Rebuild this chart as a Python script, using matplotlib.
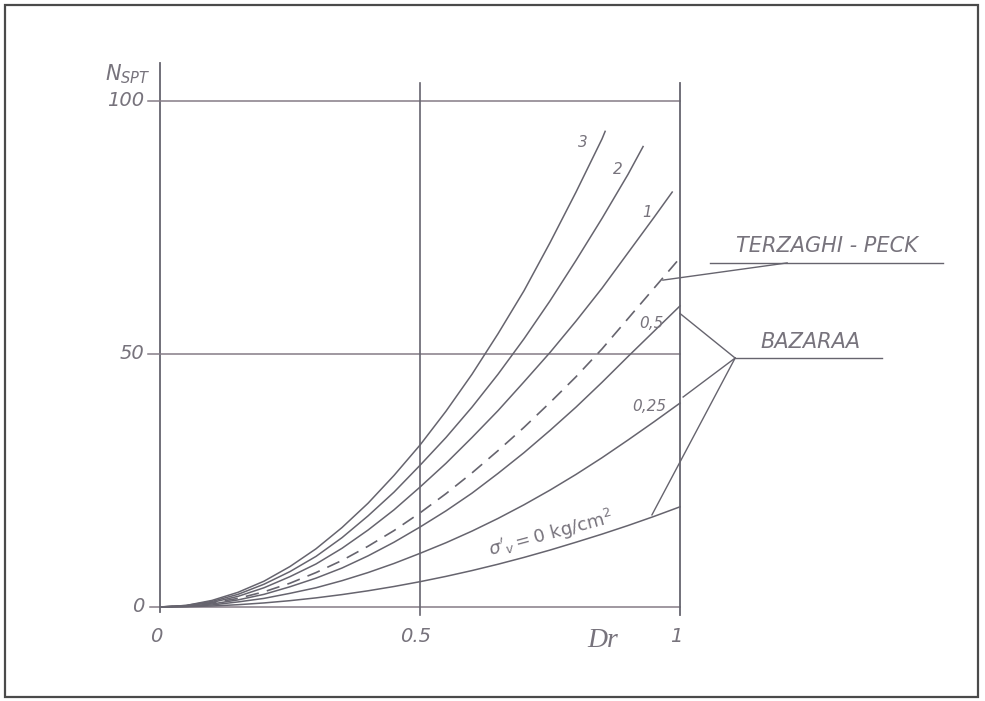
import matplotlib.pyplot as plt
from matplotlib.patches import Rectangle

dr = [0.0, 0.05, 0.1, 0.15, 0.2, 0.25, 0.3, 0.35, 0.4, 0.45, 0.5,
      0.55, 0.6, 0.65, 0.7, 0.75, 0.8, 0.85, 0.9, 0.95, 1.0]

curve_3_dr = dr[:18] + [0.856]
curve_3 = [0.0, 0.3, 1.3, 2.9, 5.1, 8.0, 11.5, 15.7, 20.5, 26.0, 32.0,
           38.7, 46.0, 54.0, 62.5, 72.0, 82.0, 92.5, 94.0]

curve_2_dr = dr[:19] + [0.929]
curve_2 = [0.0, 0.3, 1.1, 2.5, 4.5, 7.0, 10.0, 13.7, 18.0, 22.7, 28.0,
           33.5, 39.5, 46.0, 53.0, 60.5, 68.5, 76.8, 85.5, 91.0]

curve_1_dr = dr[:20] + [0.985]
curve_1 = [0.0, 0.2, 0.9, 2.1, 3.8, 6.0, 8.5, 11.6, 15.2, 19.2, 23.7,
           28.4, 33.5, 38.8, 44.5, 50.3, 56.5, 63.0, 70.0, 77.0, 82.0]

terzaghi_peck = [0.0, 0.2, 0.8, 1.7, 3.0, 4.7, 6.8, 9.2, 12.0, 15.1, 18.6,
                 22.4, 26.5, 30.9, 35.5, 40.4, 45.5, 51.0, 57.0, 63.0, 69.0]
curve_05 = [0.0, 0.15, 0.6, 1.4, 2.5, 4.0, 5.7, 7.7, 10.1, 12.8, 15.8,
            19.0, 22.5, 26.4, 30.5, 34.9, 39.5, 44.4, 49.5, 54.5, 59.5]
curve_025 = [0.0, 0.1, 0.4, 1.0, 1.7, 2.7, 3.8, 5.2, 6.8, 8.6, 10.6,
             12.7, 15.0, 17.5, 20.2, 23.1, 26.2, 29.5, 33.0, 36.6, 40.3]
curve_0 = [0.0, 0.05, 0.2, 0.45, 0.8, 1.25, 1.8, 2.45, 3.2, 4.05, 5.0,
           6.05, 7.2, 8.45, 9.8, 11.25, 12.8, 14.4, 16.1, 17.9, 19.8]

y_ticks = [0, 50, 100]
y_tick_labels = ['0', '50', '100']
x_ticks = [0, 0.5, 1]
x_tick_labels = ['0', '0.5', '1']

curve_labels = ['3', '2', '1', '0,5', '0,25']
curve_label_pos = [(0.813, 91.7), (0.881, 86.4), (0.937, 77.9), (0.945, 56.0), (0.94, 39.6)]

ink = '#66646e'
grid_ink = '#857c86'
text_ink = '#77737c'

fig = plt.figure(figsize=(9.85, 7.01), dpi=100)
ax = fig.add_axes([0, 0, 1, 1])
ax.set_xlim(-0.3077, 1.5865)
ax.set_ylim(-18.58, 119.96)
ax.axis('off')

# frame of the scanned page
fig.patches.append(Rectangle((5 / 985, 4 / 701), 973 / 985, 692 / 701, transform=fig.transFigure,
                             fill=False, edgecolor='#4a4a4a', linewidth=1.6))

# axes and grid
ax.plot([0, 0], [-1, 107.5], color=ink, lw=1.3)
ax.plot([-0.023, 1.0], [100, 100], color=grid_ink, lw=1.1)
ax.plot([-0.023, 1.0], [50, 50], color=grid_ink, lw=1.1)
ax.plot([-0.02, 1.0], [0, 0], color=grid_ink, lw=1.1)
ax.plot([0.5, 0.5], [-1.6, 103.6], color=ink, lw=1.2)
ax.plot([1.0, 1.0], [-1.6, 103.6], color=ink, lw=1.3)

for t, lab in zip(y_ticks, y_tick_labels):
    ax.text(-0.03, t, lab, ha='right', va='center', fontsize=14, style='italic', color=text_ink)
for t, lab in zip(x_ticks, x_tick_labels):
    ax.text(t - 0.008, -5.8, lab, ha='center', va='center', fontsize=14, style='italic', color=text_ink)

ax.text(0.852, -6.6, 'Dr', ha='center', va='center', fontsize=20, style='italic',
        family='Liberation Serif', color=text_ink)
ax.text(-0.062, 105.3, r'$N_{SPT}$', ha='center', va='center', fontsize=15, color=text_ink)

# curves
ax.plot(curve_3_dr, curve_3, color=ink, lw=1.1)
ax.plot(curve_2_dr, curve_2, color=ink, lw=1.1)
ax.plot(curve_1_dr, curve_1, color=ink, lw=1.1)
ax.plot(dr, terzaghi_peck, color=ink, lw=1.2, linestyle=(0, (8, 5)))
ax.plot(dr, curve_05, color=ink, lw=1.1)
ax.plot(dr, curve_025, color=ink, lw=1.1)
ax.plot(dr, curve_0, color=ink, lw=1.1)

for lab, (x, y) in zip(curve_labels, curve_label_pos):
    ax.text(x, y, lab, ha='center', va='center', fontsize=11, style='italic', color=text_ink)

ax.text(0.752, 14.5, r"$\sigma'_v = 0\ \mathrm{kg/cm^2}$", ha='center', va='center',
        fontsize=13, rotation=15, color=text_ink)

# Terzaghi-Peck label and leader
ax.plot([0.967, 1.206], [64.6, 68.0], color=ink, lw=1.0)
ax.plot([1.058, 1.506], [68.0, 68.0], color=ink, lw=1.0)
ax.text(1.283, 71.3, 'TERZAGHI - PECK', ha='center', va='center', fontsize=15,
        style='italic', color=text_ink)

# Bazaraa label and leaders
ax.plot([1.106, 1.0], [49.2, 58.0], color=ink, lw=1.0)
ax.plot([1.106, 1.006], [49.2, 41.5], color=ink, lw=1.0)
ax.plot([1.106, 0.946], [49.2, 18.2], color=ink, lw=1.0)
ax.plot([1.106, 1.388], [49.2, 49.2], color=ink, lw=1.0)
ax.text(1.25, 52.3, 'BAZARAA', ha='center', va='center', fontsize=15,
        style='italic', color=text_ink)

fig.savefig('out.png', dpi=100)
